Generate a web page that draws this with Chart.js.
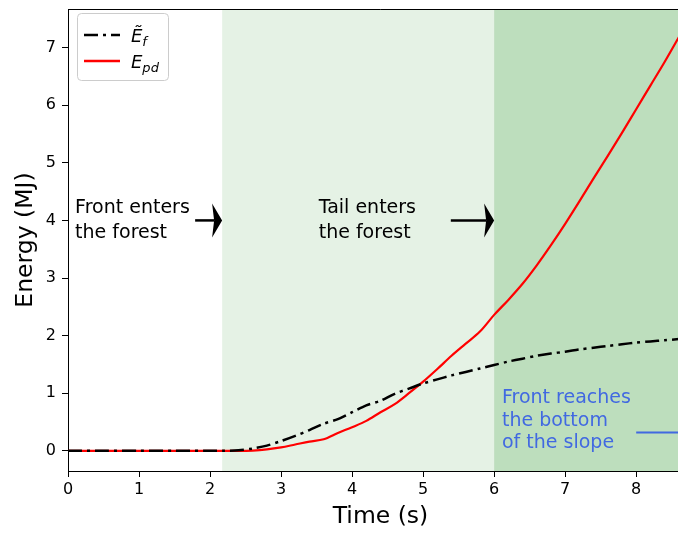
<!DOCTYPE html>
<html>
<head>
<meta charset="utf-8">
<script src="https://cdn.jsdelivr.net/npm/chart.js@4"></script>
<style>
  html, body { margin: 0; background: #fff; overflow: hidden; width: 678px; height: 533px; }
  canvas { display: block; }
</style>
</head>
<body>
<!-- the original figure is cropped on the right, so the canvas is a bit wider than the page -->
<canvas id="energy" width="693" height="533"></canvas>
<script>
// time in seconds
const timeS = [0, 0.5, 1, 1.5, 2, 2.2, 2.4, 2.6, 2.8, 3.0, 3.2, 3.4, 3.6, 3.8, 4.0, 4.2, 4.4, 4.6, 4.8, 5.0,
  5.2, 5.4, 5.6, 5.8, 6.0, 6.2, 6.4, 6.6, 6.8, 7.0, 7.2, 7.4, 7.6, 7.8, 8.0, 8.2, 8.4, 8.6, 8.8];
// E~_f (MJ), dash-dot black
const efValues = [0, 0, 0, 0, 0, 0, 0.01, 0.04, 0.09, 0.17, 0.26, 0.36, 0.47, 0.55, 0.67, 0.79, 0.87, 0.99, 1.08, 1.17,
  1.24, 1.31, 1.37, 1.43, 1.49, 1.55, 1.6, 1.65, 1.69, 1.72, 1.76, 1.79, 1.82, 1.85, 1.88, 1.9, 1.92, 1.94, 1.96];
// E_pd (MJ), red
const epdValues = [0, 0, 0, 0, 0, 0, 0, 0.005, 0.025, 0.06, 0.11, 0.16, 0.2, 0.31, 0.41, 0.52, 0.67, 0.81, 1.0, 1.2,
  1.42, 1.65, 1.86, 2.07, 2.36, 2.62, 2.9, 3.22, 3.57, 3.94, 4.33, 4.73, 5.12, 5.52, 5.93, 6.34, 6.75, 7.18, 7.6];
const xTicks = [0, 1, 2, 3, 4, 5, 6, 7, 8];
const yTicks = [0, 1, 2, 3, 4, 5, 6, 7];
// shaded phases (s)
const frontEnters = 2.17;
const tailEnters = 6.0;

const FONT = 'DejaVu Sans';

function pts(ys) {
  return timeS.map((t, i) => ({ x: t, y: ys[i] }));
}

function arrow(ctx, x0, x1, y) {
  ctx.save();
  ctx.strokeStyle = '#000';
  ctx.fillStyle = '#000';
  ctx.lineWidth = 2.5;
  ctx.beginPath();
  ctx.moveTo(x0, y);
  ctx.lineTo(x1 - 8, y);
  ctx.stroke();
  ctx.beginPath();
  ctx.moveTo(x1, y);
  ctx.lineTo(x1 - 10, y - 17);
  ctx.lineTo(x1 - 8, y);
  ctx.lineTo(x1 - 10, y + 17);
  ctx.closePath();
  ctx.fill();
  ctx.restore();
}

const decor = {
  id: 'decor',
  beforeDatasetsDraw(chart) {
    const { ctx, chartArea: a, scales: { x } } = chart;
    ctx.save();
    ctx.beginPath();
    ctx.rect(a.left, a.top, a.right - a.left, a.bottom - a.top);
    ctx.clip();
    const x0 = x.getPixelForValue(frontEnters);
    const x1 = x.getPixelForValue(tailEnters);
    ctx.fillStyle = 'rgba(0,128,0,0.1)';
    ctx.fillRect(x0, a.top, x1 - x0, a.bottom - a.top);
    ctx.fillStyle = 'rgba(0,128,0,0.26)';
    ctx.fillRect(x1, a.top, a.right - x1, a.bottom - a.top);
    ctx.restore();
  },
  afterDatasetsDraw(chart) {
    const { ctx, chartArea: a, scales: { x, y } } = chart;
    ctx.save();
    ctx.font = '19px "' + FONT + '"';
    ctx.fillStyle = '#000';
    ctx.textBaseline = 'middle';
    ctx.fillText('Front enters', x.getPixelForValue(0.1), y.getPixelForValue(4.22));
    ctx.fillText('the forest', x.getPixelForValue(0.1), y.getPixelForValue(3.78));
    ctx.fillText('Tail enters', x.getPixelForValue(3.53), y.getPixelForValue(4.22));
    ctx.fillText('the forest', x.getPixelForValue(3.53), y.getPixelForValue(3.78));
    arrow(ctx, x.getPixelForValue(1.79), x.getPixelForValue(frontEnters), y.getPixelForValue(4));
    arrow(ctx, x.getPixelForValue(5.39), x.getPixelForValue(tailEnters), y.getPixelForValue(4));

    ctx.fillStyle = '#4169e1';
    ctx.fillText('Front reaches', x.getPixelForValue(6.11), y.getPixelForValue(0.91));
    ctx.fillText('the bottom', x.getPixelForValue(6.11), y.getPixelForValue(0.52));
    ctx.fillText('of the slope', x.getPixelForValue(6.11), y.getPixelForValue(0.13));
    ctx.strokeStyle = '#4169e1';
    ctx.lineWidth = 2;
    ctx.beginPath();
    ctx.moveTo(x.getPixelForValue(8.0), y.getPixelForValue(0.32));
    ctx.lineTo(a.right, y.getPixelForValue(0.32));
    ctx.stroke();

    // top and right spines
    ctx.strokeStyle = '#000';
    ctx.lineWidth = 1;
    ctx.beginPath();
    ctx.moveTo(a.left, a.top + 0.5);
    ctx.lineTo(a.right - 0.5, a.top + 0.5);
    ctx.lineTo(a.right - 0.5, a.bottom);
    ctx.stroke();
    ctx.restore();
  },
  afterDraw(chart) {
    const { ctx, chartArea: a } = chart;
    const lx = a.left + 9, ly = a.top + 4, w = 91, h = 67;
    ctx.save();
    ctx.fillStyle = 'rgba(255,255,255,0.8)';
    ctx.strokeStyle = '#cccccc';
    ctx.lineWidth = 1;
    ctx.beginPath();
    ctx.roundRect(lx + 0.5, ly + 0.5, w, h, 4);
    ctx.fill();
    ctx.stroke();

    const rows = [
      { y: ly + 22, color: '#000', dash: [14, 5, 3, 5], main: '\u1EBC', sub: 'f' },
      { y: ly + 48, color: '#ff0000', dash: [], main: 'E', sub: 'pd' }
    ];
    rows.forEach(r => {
      ctx.strokeStyle = r.color;
      ctx.lineWidth = 2.5;
      ctx.setLineDash(r.dash);
      ctx.beginPath();
      ctx.moveTo(lx + 7, r.y);
      ctx.lineTo(lx + 43, r.y);
      ctx.stroke();
      ctx.setLineDash([]);
      ctx.fillStyle = '#000';
      ctx.textBaseline = 'alphabetic';
      ctx.font = 'italic 18px "' + FONT + '"';
      ctx.fillText(r.main, lx + 54, r.y + 7);
      const mw = ctx.measureText(r.main).width;
      ctx.font = 'italic 13px "' + FONT + '"';
      ctx.fillText(r.sub, lx + 54 + mw, r.y + 11);
    });
    ctx.restore();
  }
};

new Chart(document.getElementById('energy').getContext('2d'), {
  type: 'line',
  data: {
    datasets: [
      {
        label: 'Ef',
        data: pts(efValues),
        borderColor: '#000',
        borderWidth: 2.5,
        borderDash: [14, 5, 3, 5],
        pointRadius: 0,
        tension: 0.3,
        fill: false
      },
      {
        label: 'Epd',
        data: pts(epdValues),
        borderColor: '#ff0000',
        borderWidth: 2.2,
        pointRadius: 0,
        cubicInterpolationMode: 'monotone',
        fill: false
      }
    ]
  },
  options: {
    responsive: false,
    animation: false,
    layout: { padding: { top: 9, right: 0, left: 0, bottom: 0 } },
    plugins: { legend: { display: false }, tooltip: { enabled: false } },
    scales: {
      x: {
        type: 'linear',
        min: 0,
        max: 8.8,
        afterBuildTicks: s => { s.ticks = xTicks.map(v => ({ value: v })); },
        afterFit: s => { s.height = 62; s.paddingLeft = 0; s.paddingRight = 0; },
        grid: { drawOnChartArea: false, drawTicks: true, tickLength: 6, color: '#000' },
        border: { display: true, color: '#000', width: 1 },
        ticks: { color: '#000', font: { family: FONT, size: 16 }, padding: 3, maxRotation: 0 },
        title: { display: true, text: 'Time (s)', color: '#000', font: { family: FONT, size: 23.5 }, padding: { top: 0, bottom: 2 } }
      },
      y: {
        type: 'linear',
        min: -0.35,
        max: 7.67,
        afterBuildTicks: s => { s.ticks = yTicks.map(v => ({ value: v })); },
        afterFit: s => { s.width = 68; s.paddingTop = 0; s.paddingBottom = 0; },
        grid: { drawOnChartArea: false, drawTicks: true, tickLength: 6, color: '#000' },
        border: { display: true, color: '#000', width: 1 },
        ticks: { color: '#000', font: { family: FONT, size: 16 }, padding: 6 },
        title: { display: true, text: 'Energy (MJ)', color: '#000', font: { family: FONT, size: 23.5 }, padding: { top: 12, bottom: 0 } }
      }
    }
  },
  plugins: [decor]
});
</script>
</body>
</html>
